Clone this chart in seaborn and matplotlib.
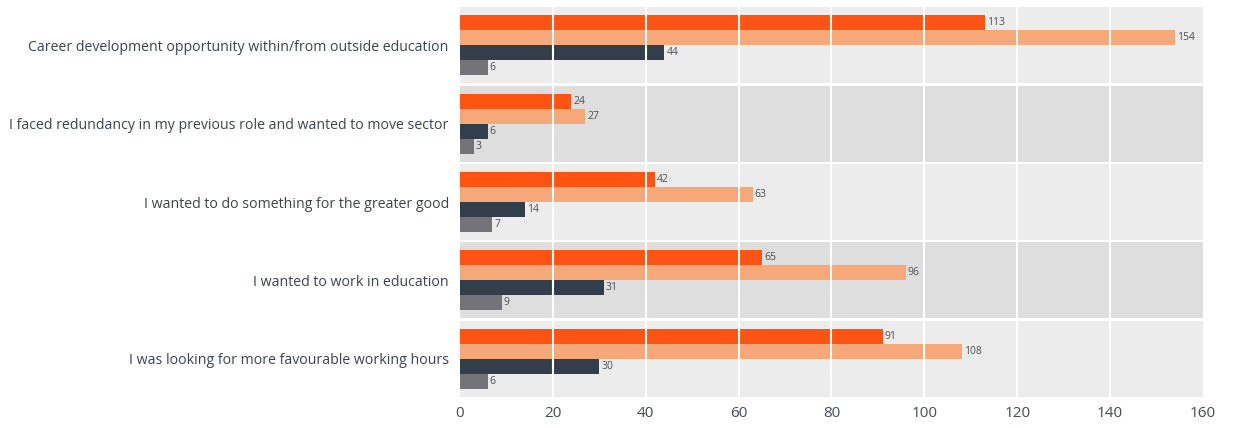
import pandas as pd
import numpy as np
import matplotlib
matplotlib.use("Agg")
import matplotlib.pyplot as plt
import seaborn as sns

# reasons (top to bottom) and counts per group
reasons = [
    "Career development opportunity within/from outside education",
    "I faced redundancy in my previous role and wanted to move sector",
    "I wanted to do something for the greater good",
    "I wanted to work in education",
    "I was looking for more favourable working hours",
]
groups = ["Group 1", "Group 2", "Group 3", "Group 4"]
group1 = [113, 24, 42, 65, 91]
group2 = [154, 27, 63, 96, 108]
group3 = [44, 6, 14, 31, 30]
group4 = [6, 3, 7, 9, 6]
colors = ["#ff5314", "#f7a878", "#323e4a", "#747379"]
band_colors = ["#ececec", "#dedede"]

df = pd.DataFrame({
    "reason": reasons * 4,
    "group": np.repeat(groups, len(reasons)),
    "count": group1 + group2 + group3 + group4,
})

sns.set_style("white")
plt.rcParams["font.family"] = ["Open Sans", "DejaVu Sans"]

fig = plt.figure(figsize=(12.33, 4.28), dpi=100)
ax = fig.add_axes([0.373, 0.07, 0.6027, 0.916])

# alternating background bands
for i in range(len(reasons)):
    ax.axhspan(i - 0.484, i + 0.484, xmin=0, xmax=1,
               color=band_colors[i % 2], zorder=0, lw=0)

sns.barplot(data=df, y="reason", x="count", hue="group", orient="h",
            order=reasons, hue_order=groups, palette=colors,
            width=0.765, gap=0, dodge=True, legend=False, ax=ax,
            saturation=1, linewidth=0, zorder=2)

for cont in ax.containers:
    ax.bar_label(cont, padding=1.5, fontsize=7.5, color="#4a5058")

# white gridlines drawn over the bars
for x in range(20, 160, 20):
    ax.axvline(x, color="white", lw=1.5, zorder=3)

ax.set_xlim(0, 160)
ax.set_ylim(4.5, -0.5)
ax.set_xticks(range(0, 161, 20))
ax.set_xlabel("")
ax.set_ylabel("")
ax.tick_params(axis="x", length=0, pad=6, labelsize=11, labelcolor="#444c55")
ax.tick_params(axis="y", length=0, pad=8, labelsize=10.2, labelcolor="#3a4450")
for s in ax.spines.values():
    s.set_visible(False)
ax.set_facecolor("white")

fig.savefig("out.png", dpi=100)
